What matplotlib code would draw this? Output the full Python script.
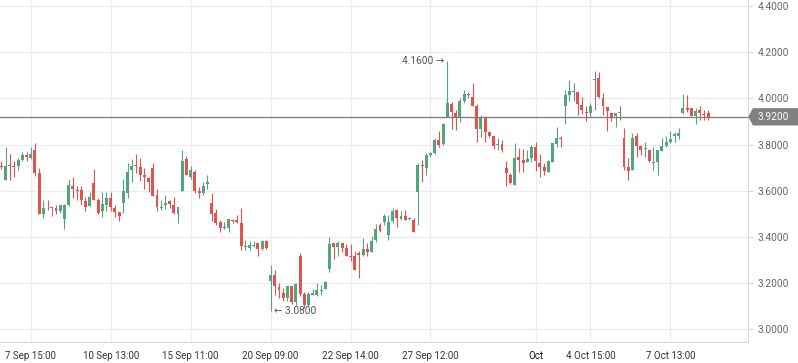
import matplotlib
matplotlib.use("Agg")
import matplotlib.pyplot as plt
from matplotlib.patches import Polygon
from matplotlib.transforms import blended_transform_factory

plt.rcParams["font.family"] = ["Roboto", "DejaVu Sans"]

# Hourly candles (open, high, low, close)
opens = [
    3.706, 3.648, 3.712, 3.709, 3.709, 3.733, 3.755, 3.743, 3.777, 3.677,
    3.501, 3.527, 3.527, 3.524, 3.514, 3.479, 3.539, 3.621, 3.603, 3.602,
    3.556, 3.535, 3.634, 3.560, 3.510, 3.539, 3.569, 3.524, 3.507, 3.546,
    3.592, 3.690, 3.710, 3.702, 3.670, 3.655, 3.699, 3.582, 3.526, 3.540,
    3.557, 3.539, 3.501, 3.600, 3.738, 3.661, 3.681, 3.600, 3.592, 3.627,
    3.547, 3.504, 3.465, 3.438, 3.440, 3.474, 3.471, 3.458, 3.356, 3.352,
    3.362, 3.375, 3.348, 3.384, 3.211, 3.236, 3.181, 3.159, 3.135, 3.188,
    3.116, 3.318, 3.154, 3.106, 3.147, 3.147, 3.166, 3.173, 3.259, 3.375,
    3.354, 3.375, 3.351, 3.319, 3.315, 3.332, 3.322, 3.348, 3.336, 3.387,
    3.452, 3.465, 3.409, 3.467, 3.517, 3.478, 3.491, 3.477, 3.474, 3.593,
    3.713, 3.697, 3.755, 3.762, 3.820, 3.801, 3.918, 3.974, 3.935, 3.918,
    3.989, 4.015, 4.005, 3.969, 3.868, 3.921, 3.853, 3.835, 3.797, 3.801,
    3.697, 3.668, 3.625, 3.748, 3.733, 3.726, 3.743, 3.789, 3.722, 3.704,
    3.683, 3.726, 3.803, 3.830, 3.967, 4.015, 4.026, 4.026, 3.971, 3.942,
    3.938, 4.080, 4.087, 4.002, 3.963, 3.938, 3.924, 3.935, 3.829, 3.704,
    3.690, 3.837, 3.794, 3.780, 3.777, 3.722, 3.723, 3.774, 3.794, 3.809,
    3.837, 3.837, 3.938, 3.960, 3.960, 3.925, 3.950, 3.933, 3.935,
]
highs = [
    3.729, 3.790, 3.759, 3.729, 3.743, 3.767, 3.769, 3.791, 3.807, 3.699,
    3.560, 3.559, 3.529, 3.539, 3.539, 3.542, 3.650, 3.658, 3.621, 3.620,
    3.573, 3.593, 3.693, 3.567, 3.596, 3.596, 3.596, 3.539, 3.507, 3.651,
    3.719, 3.738, 3.759, 3.741, 3.699, 3.661, 3.720, 3.606, 3.560, 3.581,
    3.560, 3.572, 3.530, 3.777, 3.751, 3.706, 3.690, 3.618, 3.637, 3.667,
    3.590, 3.521, 3.474, 3.465, 3.478, 3.478, 3.495, 3.526, 3.387, 3.383,
    3.380, 3.375, 3.387, 3.387, 3.279, 3.256, 3.199, 3.178, 3.188, 3.188,
    3.199, 3.331, 3.163, 3.163, 3.173, 3.199, 3.190, 3.208, 3.400, 3.375,
    3.380, 3.375, 3.368, 3.368, 3.339, 3.339, 3.397, 3.375, 3.402, 3.456,
    3.461, 3.500, 3.496, 3.524, 3.521, 3.510, 3.517, 3.487, 3.482, 3.719,
    3.733, 3.762, 3.769, 3.827, 3.859, 3.895, 4.160, 3.986, 3.950, 4.001,
    4.037, 4.029, 4.066, 3.976, 3.928, 3.924, 3.859, 3.835, 3.830, 3.820,
    3.729, 3.676, 3.806, 3.784, 3.781, 3.777, 3.799, 3.813, 3.760, 3.722,
    3.734, 3.806, 3.878, 3.837, 4.036, 4.080, 4.065, 4.026, 4.008, 3.967,
    3.979, 4.119, 4.112, 4.022, 3.963, 3.938, 3.938, 3.967, 3.871, 3.741,
    3.851, 3.851, 3.798, 3.813, 3.777, 3.791, 3.777, 3.827, 3.839, 3.859,
    3.856, 3.873, 4.019, 4.015, 3.960, 3.960, 3.967, 3.950, 3.950,
]
lows = [
    3.693, 3.648, 3.648, 3.658, 3.691, 3.729, 3.729, 3.738, 3.664, 3.501,
    3.482, 3.518, 3.491, 3.500, 3.503, 3.433, 3.534, 3.570, 3.560, 3.539,
    3.513, 3.535, 3.561, 3.501, 3.484, 3.513, 3.510, 3.488, 3.469, 3.503,
    3.570, 3.639, 3.676, 3.641, 3.609, 3.595, 3.579, 3.510, 3.517, 3.521,
    3.527, 3.500, 3.462, 3.600, 3.670, 3.650, 3.592, 3.570, 3.582, 3.609,
    3.469, 3.452, 3.419, 3.436, 3.419, 3.462, 3.462, 3.344, 3.344, 3.344,
    3.354, 3.319, 3.344, 3.348, 3.080, 3.149, 3.134, 3.123, 3.123, 3.110,
    3.106, 3.146, 3.092, 3.099, 3.147, 3.145, 3.147, 3.173, 3.250, 3.303,
    3.315, 3.336, 3.315, 3.296, 3.257, 3.224, 3.319, 3.318, 3.336, 3.378,
    3.422, 3.452, 3.387, 3.459, 3.441, 3.474, 3.471, 3.471, 3.419, 3.452,
    3.639, 3.668, 3.748, 3.759, 3.791, 3.798, 3.918, 3.868, 3.863, 3.899,
    3.979, 4.003, 3.968, 3.810, 3.832, 3.810, 3.834, 3.780, 3.777, 3.769,
    3.622, 3.628, 3.625, 3.680, 3.683, 3.724, 3.726, 3.686, 3.660, 3.668,
    3.680, 3.726, 3.791, 3.791, 3.889, 3.989, 3.989, 3.928, 3.931, 3.900,
    3.921, 3.950, 4.003, 3.928, 3.860, 3.900, 3.877, 3.907, 3.690, 3.647,
    3.690, 3.748, 3.755, 3.748, 3.726, 3.690, 3.668, 3.774, 3.791, 3.806,
    3.810, 3.823, 3.931, 3.943, 3.925, 3.891, 3.907, 3.907, 3.907,
]
closes = [
    3.702, 3.707, 3.707, 3.704, 3.733, 3.755, 3.746, 3.759, 3.678, 3.501,
    3.526, 3.523, 3.527, 3.510, 3.539, 3.539, 3.625, 3.608, 3.599, 3.560,
    3.531, 3.572, 3.561, 3.504, 3.543, 3.569, 3.530, 3.507, 3.491, 3.599,
    3.683, 3.707, 3.706, 3.670, 3.661, 3.639, 3.579, 3.531, 3.530, 3.547,
    3.544, 3.505, 3.530, 3.729, 3.670, 3.690, 3.600, 3.592, 3.620, 3.637,
    3.501, 3.462, 3.439, 3.438, 3.478, 3.469, 3.466, 3.361, 3.361, 3.365,
    3.365, 3.347, 3.384, 3.351, 3.236, 3.186, 3.168, 3.134, 3.188, 3.116,
    3.197, 3.152, 3.106, 3.154, 3.157, 3.169, 3.169, 3.203, 3.370, 3.354,
    3.375, 3.351, 3.318, 3.311, 3.257, 3.322, 3.348, 3.334, 3.380, 3.435,
    3.426, 3.491, 3.465, 3.510, 3.481, 3.491, 3.474, 3.481, 3.419, 3.712,
    3.709, 3.755, 3.765, 3.820, 3.798, 3.889, 3.979, 3.940, 3.918, 3.989,
    4.018, 4.015, 3.968, 3.868, 3.918, 3.853, 3.839, 3.795, 3.801, 3.777,
    3.678, 3.632, 3.741, 3.733, 3.722, 3.736, 3.791, 3.729, 3.704, 3.686,
    3.729, 3.806, 3.830, 3.826, 4.015, 4.032, 4.026, 3.974, 3.950, 3.938,
    3.967, 4.080, 4.005, 3.967, 3.944, 3.919, 3.938, 3.935, 3.704, 3.687,
    3.830, 3.794, 3.777, 3.787, 3.729, 3.726, 3.777, 3.794, 3.809, 3.825,
    3.847, 3.852, 3.960, 3.950, 3.925, 3.946, 3.938, 3.929, 3.920,
]

tick_pos = [7, 26, 45, 64, 83, 102, 127, 140, 159]
tick_labels = ["7 Sep 15:00", "10 Sep 13:00", "15 Sep 11:00", "20 Sep 09:00",
               "22 Sep 14:00", "27 Sep 12:00", "Oct", "4 Oct 15:00", "7 Oct 13:00"]
price_ticks = [3.0, 3.2, 3.4, 3.6, 3.8, 4.0, 4.2, 4.4]

last_price = 3.92
max_idx, max_price = 106, 4.16
min_idx, min_price = 64, 3.08

GREEN = "#53a57f"
RED = "#e1534f"
GRAY = "#808080"


fig = plt.figure(figsize=(7.98, 3.63), dpi=100)
ax = fig.add_axes([0.0, 0.0587, 0.937, 0.9413])

for i in range(len(opens)):
    o, h, l, c = opens[i], highs[i], lows[i], closes[i]
    if c > o:
        col = GREEN
    elif c < o:
        col = RED
    else:
        col = GRAY
    ax.vlines(i, l, h, color=col, lw=0.8, zorder=3)
    bottom = min(o, c)
    height = max(abs(c - o), 0.004)
    ax.bar(i, height, bottom=bottom, width=0.7, color=col, lw=0, zorder=4)

ax.set_xlim(-0.31, 177.4)
ax.set_ylim(2.946, 4.426)

ax.yaxis.tick_right()
ax.set_yticks(price_ticks)
ax.set_yticklabels([f"{p:.4f}" for p in price_ticks])
ax.tick_params(axis="y", length=3.3, width=0.8, color="#d6d6d6",
               labelsize=7.3, labelcolor="#666666", pad=3.6)

ax.set_xticks(tick_pos)
ax.set_xticklabels(tick_labels)
ax.tick_params(axis="x", length=0, labelsize=7, labelcolor="#333333", pad=7)
ax.get_xticklabels()[6].set_color("#111111")

ax.grid(True, color="#ececec", lw=0.8, zorder=0)
ax.set_axisbelow(True)
for side in ["top", "left"]:
    ax.spines[side].set_visible(False)
for side in ["bottom", "right"]:
    ax.spines[side].set_color("#d9d9d9")
    ax.spines[side].set_linewidth(0.8)

# current price line and tag
ax.axhline(last_price, color="#7a7a7a", lw=0.9, zorder=5)
tr = blended_transform_factory(fig.transFigure, ax.transData)
half = 0.0375
tag = Polygon([(0.9377, last_price), (0.9435, last_price + half), (1.0, last_price + half),
               (1.0, last_price - half), (0.9435, last_price - half)],
              closed=True, transform=tr, facecolor="#808080", edgecolor="none",
              clip_on=False, zorder=6)
fig.patches.append(tag)
fig.text(0.969, last_price, f"{last_price:.4f}", transform=tr, color="white",
         fontsize=7.3, ha="center", va="center", zorder=7)

# high / low annotations
ax.annotate(f"{max_price:.4f} \u2192", xy=(max_idx, max_price), xytext=(-3, 0),
            textcoords="offset pixels", ha="right", va="center",
            fontsize=7.3, color="#555555")
ax.annotate(f"\u2190 {min_price:.4f}", xy=(min_idx, min_price), xytext=(3, 0),
            textcoords="offset pixels", ha="left", va="center",
            fontsize=7.3, color="#555555")

fig.savefig("out.png", dpi=100)
